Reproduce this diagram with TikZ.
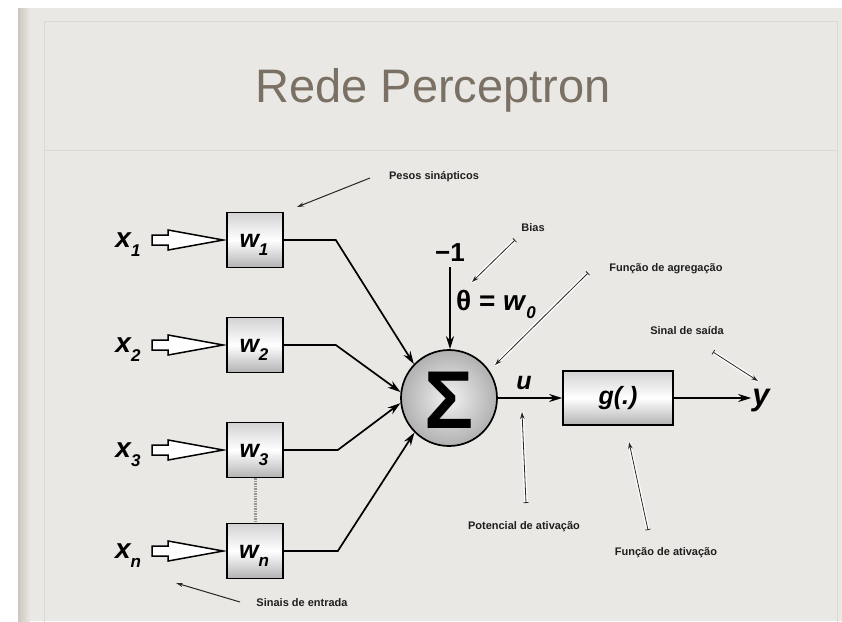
\documentclass[tikz,border=0pt]{standalone}
\usepackage{fontspec}
\setmainfont{Liberation Sans}
\usetikzlibrary{arrows.meta,shapes.geometric,calc}
\definecolor{slidebg}{RGB}{233,232,228}
\definecolor{slideedge}{RGB}{205,199,189}
\definecolor{framecol}{RGB}{218,217,212}
\definecolor{titlecol}{RGB}{122,112,100}
\definecolor{annotcol}{RGB}{30,30,30}
\tikzset{
  wbox/.style={draw=black, line width=1.6pt, minimum width=56pt, minimum height=55pt,
    inner sep=0pt, top color=gray!35, bottom color=gray!60, middle color=white},
  wlab/.style={inner sep=0pt, font=\fontsize{25}{25}\selectfont\bfseries\itshape},
  xlab/.style={inner sep=0pt, font=\fontsize{28}{28}\selectfont\bfseries\itshape},
  conn/.style={draw=black, line width=1.7pt, -{Stealth[length=13pt,width=8pt]}},
  hollowarr/.style={draw=black, line width=1.5pt, fill=white, line join=miter},
  annot/.style={inner sep=0pt, text=annotcol, font=\fontsize{11}{13}\selectfont\bfseries},
  plainptr/.style={draw=black!85, line width=1pt, -{Stealth[length=7pt,width=4pt]}},
  haloptr/.style={draw=black!85, line width=0.8pt, {Bar[width=5pt]}-{Stealth[length=7pt,width=4.5pt]},
    preaction={draw=white, line width=3.5pt, -}},
  bigmath/.style={inner sep=0pt, font=\fontsize{26}{26}\selectfont\bfseries}
}
\newcommand{\subs}[1]{\raisebox{-0.32em}[0pt][0pt]{\fontsize{17}{17}\selectfont #1}}
\begin{document}
\begin{tikzpicture}[x=1pt,y=-1pt]
\useasboundingbox (0,0) rectangle (842,621);
% slide background
\fill[white] (0,0) rectangle (842,621);
\fill[slidebg] (18,8) rectangle (842,621);
\shade[left color=slideedge, right color=slidebg] (18,8) rectangle (30,621);
\draw[framecol, line width=0.8pt] (44,21) rectangle (837,640);
\draw[framecol, line width=0.8pt] (44,150) -- (837,150);
% title
\node[titlecol, font=\fontsize{47}{50}\selectfont] (title) at (433,90) {Rede Perceptron};

% weight boxes
\node[wbox] (w1) at (255,240) {};
\node[wbox] (w2) at (255,345) {};
\node[wbox] (w3) at (255,450) {};
\node[wbox] (wn) at (255,551) {};
\node[wlab] at ($(w1)+(-1,1)$) {w\subs{1}};
\node[wlab] at ($(w2)+(-1,1)$) {w\subs{2}};
\node[wlab] at ($(w3)+(-1,1)$) {w\subs{3}};
\node[wlab] at ($(wn)+(-1,1)$) {w\subs{n}};
\draw[gray!85, line width=3pt, dash pattern=on 1.5pt off 1pt] (w3.south) -- (wn.north);

% input labels
\node[xlab] (x1) at (128,240) {x\subs{1}};
\node[xlab] (x2) at (128,345) {x\subs{2}};
\node[xlab] (x3) at (128,450) {x\subs{3}};
\node[xlab] (xn) at (128,551) {x\subs{n}};

% hollow arrows
\foreach \w in {w1,w2,w3,wn}{
  \draw[hollowarr, shift={(\w.west)}] (-74,-5) -- (-58,-5) -- (-58,-10) -- (-3,0)
     -- (-58,10) -- (-58,5) -- (-74,5) -- cycle;
}

% summation
\node[circle, draw=black, line width=1.7pt, minimum size=96pt, inner sep=0pt,
      inner color=gray!10, outer color=gray!62] (sum) at (449,398) {};
\node[inner sep=0pt, font=\fontsize{82}{82}\selectfont\bfseries] (sigma) at ($(sum)+(0,2)$) {Σ};

% connectors into summation
\draw[conn] (w1.east) -- ++(52,0) -- (sum.136);
\draw[conn] (w2.east) -- ++(52,0) -- (sum.173);
\draw[conn] (w3.east) -- ++(54,0) -- (sum.186);
\draw[conn] (wn.east) -- ++(54,0) -- (sum.225);

% bias
\node[bigmath, inner ysep=5pt] (m1) at (450,253) {−1};
\draw[conn] (m1.south) -- (m1.south |- sum.north);
\node[inner sep=0pt, font=\fontsize{28}{28}\selectfont\bfseries] (theta) at (496,300)
   {θ = \textit{w}\subs{\textit{0}}};

% activation
\node[draw=black, line width=1.7pt, minimum width=110pt, minimum height=54pt, inner sep=0pt,
      top color=gray!35, bottom color=gray!60, middle color=white,
      font=\fontsize{25}{25}\selectfont\bfseries\itshape] (g) at (618,398) {g(.)};
\draw[conn] (sum.east) -- (g.west);
\node[inner sep=0pt, font=\fontsize{25}{25}\selectfont\bfseries\itshape] (u) at (524,383) {u};
\node[inner sep=1pt, font=\fontsize{31}{31}\selectfont\bfseries\itshape] (y) at (761,401) {y};
\draw[conn] (g.east) -- (g.east -| y.west);

% annotations
\node[annot] (tpesos) at (434,177) {Pesos sinápticos};
\coordinate (p1a) at (370,178); \coordinate (p1b) at (297,207);
\draw[plainptr] (p1a) -- (p1b);

\node[annot] (tbias) at (533,228) {Bias};
\coordinate (p2a) at (515,240); \coordinate (p2b) at (472,282);
\draw[haloptr] (p2a) -- (p2b);

\node[annot] (tagreg) at (666,269) {Função de agregação};
\coordinate (p3a) at (588,273); \coordinate (p3b) at (495,365);
\draw[haloptr] (p3a) -- (p3b);

\node[annot] (tsaida) at (687,331) {Sinal de saída};
\coordinate (p4a) at (713,352); \coordinate (p4b) at (758,381);
\draw[haloptr] (p4a) -- (p4b);

\node[annot] (tpot) at (524,527) {Potencial de ativação};
\coordinate (p5a) at (526,503); \coordinate (p5b) at (522,412);
\draw[haloptr] (p5a) -- (p5b);

\node[annot] (tativ) at (666,553) {Função de ativação};
\coordinate (p6a) at (648,530); \coordinate (p6b) at (629,442);
\draw[haloptr] (p6a) -- (p6b);

\node[annot] (tent) at (302,603) {Sinais de entrada};
\coordinate (p7a) at (240,602); \coordinate (p7b) at (176,583);
\draw[plainptr] (p7a) -- (p7b);
\end{tikzpicture}
\end{document}
